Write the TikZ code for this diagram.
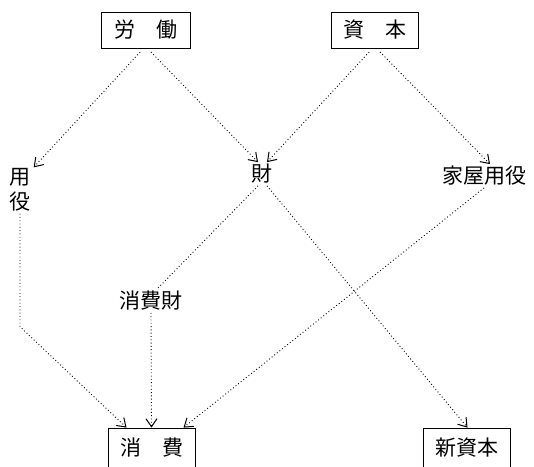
\documentclass[tikz,border=0pt]{standalone}
\usepackage{fontspec}
\newfontfamily\jp{Noto Sans CJK JP}
\usepackage{tikz}
\usetikzlibrary{calc}
\usetikzlibrary{arrows.meta}
\tikzset{
   word/.style={font=\jp\fontsize{21}{25}\selectfont, inner sep=2pt, align=center},
   frame/.style={word, draw=black, line width=0.8pt, minimum height=36pt},
   flow/.style={draw=black, line width=0.9pt, dash pattern=on 0.9pt off 2.4pt,
      -{Straight Barb[length=8pt,width=11pt,line width=1pt]}},
   link/.style={draw=black, line width=0.9pt, dash pattern=on 0.9pt off 2.4pt},
    }

\begin{document}
\begin{tikzpicture}[x=1pt, y=-1pt]
        \useasboundingbox (0,0) rectangle (534,466);
        \node[frame, minimum width=89pt] (rodo) at (145.5,30) {労\hspace{1em}働};
        \node[frame, minimum width=87pt] (shihon) at (374.5,30) {資\hspace{1em}本};
        \node[word] (yoeki) at (20,190) {用\\役};
        \node[word] (zai) at (262,174) {財};
        \node[word] (kaoku) at (484,176) {家屋用役};
        \node[word] (shohizai) at (151,301) {消費財};
        \node[frame, minimum width=87pt, minimum height=40pt] (shohi) at (151.5,448) {消\hspace{1em}費};
        \node[frame, minimum width=87pt, minimum height=40pt] (shinshihon) at (466.5,448) {新資本};
            \draw[flow, shorten <=5pt] ([xshift=-2pt]rodo.south) -- ([shift={(1pt,-1pt)}]yoeki.north east);
            \draw[flow, shorten <=5pt] ([xshift=2pt]rodo.south) -- ([xshift=-4pt]zai.north);
            \draw[flow, shorten <=5pt] ([xshift=-2pt]shihon.south) -- ([xshift=5pt]zai.north);
            \draw[flow, shorten <=5pt] ([xshift=2pt]shihon.south) -- ([xshift=6pt]kaoku.north);
            \draw[link] ([xshift=-4pt]zai.south) -- ([xshift=6pt]shohizai.north);
            \draw[flow] ([xshift=5pt]zai.south) -- ([xshift=1pt]shinshihon.north);
            \draw[flow] (kaoku.south) -- ([xshift=32pt]shohi.north);
            \draw[flow] (yoeki.south) -- ++(0,113) -- ([xshift=-25pt]shohi.north);
            \draw[flow] (shohizai.south) -- (shohi.north);
    \end{tikzpicture}
\end{document}
